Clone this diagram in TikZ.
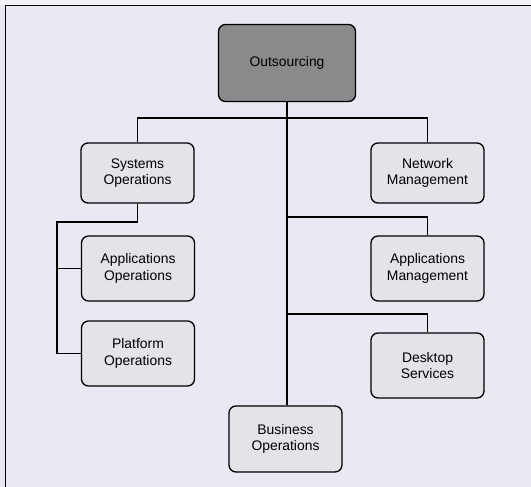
\documentclass[tikz,border=0pt]{standalone}
\usepackage{fontspec}
\setmainfont{Liberation Sans}
\definecolor{bg}{HTML}{E9E9F3}
\definecolor{bgtop}{HTML}{F3F3F7}
\definecolor{boxfill}{HTML}{E3E3E9}
\definecolor{darkfill}{HTML}{8A8A8C}
\begin{document}
\begin{tikzpicture}[x=1pt,y=-1pt,
  orgbox/.style={draw=black, line width=1.3pt, rounded corners=7pt, fill=boxfill,
    minimum width=113pt, minimum height=63pt, align=center, inner sep=0pt,
    font=\fontsize{13.9}{16.3}\selectfont},
  topbox/.style={orgbox, fill=darkfill, minimum width=137pt, minimum height=77pt},
  conn/.style={draw=black, line width=1.3pt}]
\fill[bg] (0,0) rectangle (531,487);
\fill[bgtop] (0,0) rectangle (531,5);
\useasboundingbox (0,0) rectangle (531,487);
\draw[line width=1.4pt] (5.5,487) -- (5.5,5.5) -- (531,5.5);
% nodes
\node[topbox] (out) at (287,63) {Outsourcing};
\node[orgbox, minimum height=60pt] (sys) at (137.5,173) {Systems\\Operations};
\node[orgbox, minimum height=60pt] (net) at (427.5,173) {Network\\Management};
\node[orgbox, minimum height=65pt] (appops) at (138,268.5) {Applications\\Operations};
\node[orgbox, minimum height=65pt] (appmgmt) at (427.5,268.5) {Applications\\Management};
\node[orgbox, minimum height=65pt] (plat) at (138,353.5) {Platform\\Operations};
\node[orgbox, minimum height=65pt] (desk) at (427.5,365.5) {Desktop\\Services};
\node[orgbox, minimum height=66pt] (bus) at (285.5,439) {Business\\Operations};
% coordinates
\coordinate (j1) at (287,118);
\coordinate (j2) at (287,217);
\coordinate (j3) at (287,314);
\coordinate (l1) at (57,222);
% connectors
\draw[conn] (out.south) -- (out.south |- bus.north);
\draw[conn] (sys.north) |- (j1) -| (net.north);
\draw[conn] (j2) -| (appmgmt.north);
\draw[conn] (j3) -| (desk.north);
\draw[conn] (sys.south) |- (l1) |- (plat.west);
\draw[conn] (l1 |- appops.west) -- (appops.west);
\end{tikzpicture}
\end{document}
